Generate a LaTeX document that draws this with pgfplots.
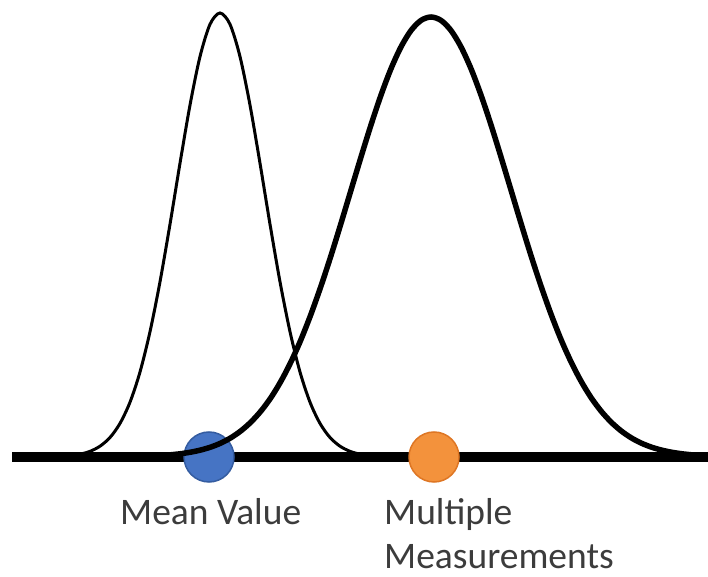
\documentclass[border=0pt]{standalone}
\usepackage{pgfplots}
\pgfplotsset{compat=1.18}
\usepackage{fontspec}
\setmainfont{Carlito}
\definecolor{mblue}{RGB}{70,116,196}
\definecolor{mblueE}{RGB}{52,92,160}
\definecolor{morange}{RGB}{243,146,60}
\definecolor{morangeE}{RGB}{222,118,36}
\definecolor{txt}{RGB}{60,60,60}
\begin{document}
\begin{tikzpicture}
\begin{axis}[
  width=708pt, height=577pt, scale only axis,
  xmin=0, xmax=708, ymin=-120, ymax=457,
  hide axis, clip=true, clip mode=individual, clip marker paths=true,
]
\path (rel axis cs:0,0) rectangle (rel axis cs:1,1);
% baseline
\addplot[black, line width=9.5pt, line cap=butt] coordinates {(12,0) (708,0)};
% thin curve
\addplot[black, line width=3pt, smooth] coordinates {
(50,0.25)(60,0.6)(70,1.33)(80,2.8)(90,5.65)(100,10.8)(110,19.5)(120,33.6)(130,54.8)(140,85.0)
(150,125.3)(160,175.2)(170,232.8)(180,293.7)(190,351.9)(200,400.4)(210,432.7)(220,444)
(230,432.7)(240,400.4)(250,351.9)(260,293.7)(270,232.8)(280,175.2)(290,125.3)(300,85.0)
(310,54.8)(320,33.6)(330,19.5)(340,10.8)(350,5.65)(360,2.8)(370,1.33)(380,0.6)(390,0.25)};
% circles
\addplot[only marks, mark=*, mark size=25pt, mark options={fill=mblue, draw=mblueE, line width=1.5pt}] coordinates {(209,0)};
\addplot[only marks, mark=*, mark size=25pt, mark options={fill=morange, draw=morangeE, line width=1.5pt}] coordinates {(434,0)};
% thick curve
\addplot[black, line width=5.5pt, smooth] coordinates {
(171,2.24)(181,3.33)(191,4.89)(201,7.05)(211,10.0)(221,14.0)(231,19.3)(241,26.2)(251,35.0)
(261,46.0)(271,59.5)(281,75.9)(291,95.2)(301,117.5)(311,142.9)(321,171.0)(331,201.4)
(341,233.7)(351,266.9)(361,300.0)(371,332.1)(381,361.9)(391,388.3)(401,410.1)(411,426.5)
(421,436.6)(431,440)(441,436.6)(451,426.5)(461,410.1)(471,388.3)(481,361.9)(491,332.1)
(501,300.0)(511,266.9)(521,233.7)(531,201.4)(541,171.0)(551,142.9)(561,117.5)(571,95.2)
(581,75.9)(591,59.5)(601,46.0)(611,35.0)(621,26.2)(631,19.3)(641,14.0)(651,10.0)(661,7.05)
(671,4.89)(681,3.33)(691,2.24)};
\node[anchor=base west, inner sep=0pt, text=txt, font=\fontsize{37.5}{44}\selectfont] at (axis cs:120,-68) {Mean Value};
\node[anchor=base west, inner sep=0pt, text=txt, font=\fontsize{37.5}{44}\selectfont] at (axis cs:384,-68) {Multiple};
\node[anchor=base west, inner sep=0pt, text=txt, font=\fontsize{37.5}{44}\selectfont] at (axis cs:384,-112) {Measurements};
\end{axis}
\end{tikzpicture}
\end{document}
